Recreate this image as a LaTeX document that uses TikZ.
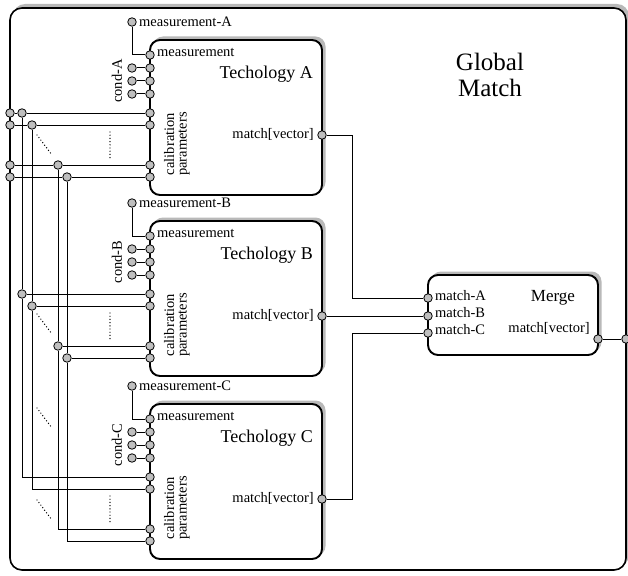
\documentclass[tikz,border=0pt]{standalone}
\usepackage{fontspec}
\setmainfont{Liberation Serif}
\begin{document}
\begin{tikzpicture}[x=1pt,y=-1pt,
  port/.style={circle,draw=black,line width=0.8pt,fill=gray!50,inner sep=0pt,minimum size=8.5pt},
  wire/.style={line width=1pt},
  boxline/.style={line width=1.9pt,rounded corners=10pt},
  shade/.style={fill=gray!55,rounded corners=10pt},
  lbl/.style={font=\fontsize{14.5}{12.5}\selectfont,inner sep=0pt},
  title/.style={font=\fontsize{18}{18}\selectfont,inner sep=0pt},
  ellip/.style={line width=1.4pt,line cap=round,dash pattern=on 0pt off 3.2pt}
]
\useasboundingbox (0,0) rectangle (628,575);

% outer "Global Match" block
\fill[shade,rounded corners=12pt] (13,4) rectangle (629,567);
\draw[line width=1.6pt,fill=white,rounded corners=12pt] (10,8) rectangle (626,570);
\node[font=\fontsize{25}{26}\selectfont,align=center,inner sep=0pt] (gmtitle) at (490,75) {Global\\Match};

% the three technology blocks
\foreach \t/\T in {A/40,B/221,C/404}{
  \fill[shade] (153,\T-3.5) rectangle (325.5,\T+152);
  \draw[boxline,fill=white] (150,\T) rectangle (322,\T+155);
  \node[title,anchor=east] (\t-title) at (313,\T+34) {Techology \t};
  % measurement input
  \node[port] (\t-m) at (150,\T+15) {};
  \node[port] (\t-md) at (132,\T-18) {};
  \node[lbl,anchor=west] (\t-mdl) at (139,\T-18) {measurement-\t};
  \node[lbl,anchor=west] (\t-ml) at (157,\T+12) {measurement};
  \draw[wire] (\t-md) |- (\t-m);
  % condition inputs
  \foreach \i/\dy in {1/28,2/41,3/54}{
    \node[port] (\t-c\i) at (150,\T+\dy) {};
    \node[port] (\t-cd\i) at (132,\T+\dy) {};
    \draw[wire] (\t-cd\i) -- (\t-c\i);
  }
  \node[lbl,rotate=90] (\t-cl) at (117,\T+41) {cond-\t};
  % calibration parameter inputs
  \foreach \i/\dy in {1/73,2/85,3/125,4/137}{
    \node[port] (\t-p\i) at (150,\T+\dy) {};
  }
  \node[lbl,rotate=90,align=center] (\t-pl) at (177,\T+104) {calibration\\parameters};
  % match output
  \node[port] (\t-out) at (322,\T+95) {};
  \node[lbl,anchor=east] (\t-ol) at (314,\T+94) {match[vector]};
  % elided parameter lines
  \draw[ellip] (110,\T+92) -- (110,\T+120);
}

% merge block
\fill[shade] (431,271.5) rectangle (601.5,352);
\draw[boxline,fill=white] (428,275) rectangle (598,355);
\node[title,font=\fontsize{17}{17}\selectfont] (mtitle) at (553,298) {Merge};
\node[port] (M-a) at (428,298) {};
\node[port] (M-b) at (428,316) {};
\node[port] (M-c) at (428,333) {};
\node[lbl,anchor=west] at (435,296) {match-A};
\node[lbl,anchor=west] at (435,313) {match-B};
\node[lbl,anchor=west] at (435,330) {match-C};
\node[port] (M-out) at (598,339) {};
\node[lbl,anchor=east] at (590,328) {match[vector]};
\node[port] (G-out) at (626,339) {};
\draw[wire] (M-out) -- (G-out);

% technology results into the merge block
\coordinate (bus) at (352,0);
\draw[wire] (A-out) -| (bus |- M-a) -- (M-a);
\draw[wire] (B-out) -- (M-b);
\draw[wire] (C-out) -| (bus |- M-c) -- (M-c);

% global calibration parameter ports and their distribution
\node[port] (g1) at (10,113) {};
\node[port] (g2) at (10,125) {};
\node[port] (g3) at (10,165) {};
\node[port] (g4) at (10,177) {};
\node[port] (j1) at (22,113) {};
\node[port] (j2) at (32,125) {};
\node[port] (j3) at (58,165) {};
\node[port] (j4) at (67,177) {};
\foreach \i in {1,2,3,4}{
  \node[port] (k\i) at (j\i |- B-p\i) {};
  \draw[wire] (g\i) -- (j\i) -- (A-p\i);
  \draw[wire] (j\i) -- (k\i) -- (j\i |- C-p\i) -- (C-p\i);
  \draw[wire] (k\i) -- (B-p\i);
}

% elided parameter columns
\draw[ellip] (37,135) -- (52,155);
\draw[ellip] (37,314) -- (52,334);
\draw[ellip] (37,408) -- (52,428);
\draw[ellip] (37,500) -- (52,520);
\end{tikzpicture}
\end{document}
